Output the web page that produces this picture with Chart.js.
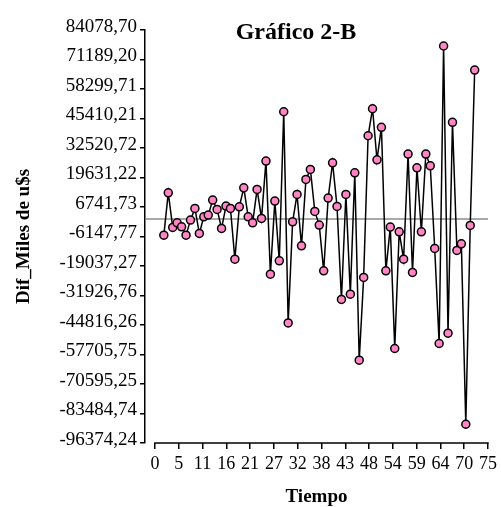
<!DOCTYPE html>
<html>
<head>
<meta charset="utf-8">
<script src="https://cdn.jsdelivr.net/npm/chart.js@4/dist/chart.umd.min.js"></script>
<style>
  html, body { margin: 0; padding: 0; background: #ffffff; }
  #wrap { width: 501px; height: 507px; }
</style>
</head>
<body>
<div id="wrap"><canvas id="c" width="501" height="507"></canvas></div>
<script>
// ---- data ----
const chartTitle = 'Gráfico 2-B';
const yTitle = 'Dif_Miles de u$s';
const xTitle = 'Tiempo';

const tiempo = [2, 3, 4, 5, 6, 7, 8, 9, 10, 11, 12, 13, 14, 15, 16, 17, 18, 19, 20, 21,
  22, 23, 24, 25, 26, 27, 28, 29, 30, 31, 32, 33, 34, 35, 36, 37, 38, 39, 40, 41,
  42, 43, 44, 45, 46, 47, 48, 49, 50, 51, 52, 53, 54, 55, 56, 57, 58, 59, 60, 61,
  62, 63, 64, 65, 66, 67, 68, 69, 70, 71, 72];

const difMiles = [-5547, 12946, -2181, -170, -1918, -5547, 1011, 6126, -4804, 2454,
  3197, 9755, 5689, -2618, 7132, 6126, -16040, 6826, 15132, 2454,
  -170, 14433, 1754, 26806, -22598, 9318, -16783, 48360, -43889, 268,
  12247, -10225, 18805, 23177, 4815, -1175, -21155, 10629, 26063, 7001,
  -33659, 12247, -31342, 21691, -60197, -24041, 37867, 49671, 27374, 41539,
  -21155, -2050, -55082, -4104, -16040, 29866, -21855, 23876, -4104, 29866,
  24751, -11362, -52896, 77084, -48393, 43725, -12236, -9351, -88178, -1306, 66591];

const referenceLevel = 1500; // horizontal gray reference line

const yTickValues = [84078.70, 71189.20, 58299.71, 45410.21, 32520.72, 19631.22, 6741.73,
  -6147.77, -19037.27, -31926.76, -44816.26, -57705.75, -70595.25, -83484.74, -96374.24];
const yTickLabels = ['84078,70', '71189,20', '58299,71', '45410,21', '32520,72', '19631,22', '6741,73',
  '-6147,77', '-19037,27', '-31926,76', '-44816,26', '-57705,75', '-70595,25', '-83484,74', '-96374,24'];

const xTickValues = [0, 5.357, 10.714, 16.071, 21.429, 26.786, 32.143, 37.5, 42.857,
  48.214, 53.571, 58.929, 64.286, 69.643, 75];
const xTickLabels = ['0', '5', '11', '16', '21', '27', '32', '38', '43', '48', '54', '59', '64', '70', '75'];

// ---- chart ----
Chart.defaults.font.family = "'Liberation Serif', 'Times New Roman', serif";
Chart.defaults.color = '#000000';

const points = tiempo.map((t, i) => ({ x: t, y: difMiles[i] }));

const extras = {
  id: 'extras',
  beforeDatasetsDraw(chart) {
    const { ctx, chartArea, scales } = chart;
    const y = scales.y.getPixelForValue(referenceLevel);
    ctx.save();
    ctx.strokeStyle = '#8c8c8c';
    ctx.lineWidth = 1.5;
    ctx.beginPath();
    ctx.moveTo(chartArea.left + 1, y);
    ctx.lineTo(chartArea.right, y);
    ctx.stroke();
    ctx.restore();
  },
  afterDraw(chart) {
    const { ctx, chartArea, scales } = chart;
    ctx.save();
    // x axis line from first to last tick
    ctx.strokeStyle = '#000000';
    ctx.lineWidth = 1.5;
    ctx.beginPath();
    ctx.moveTo(scales.x.getPixelForValue(xTickValues[0]) - 0.75, chartArea.bottom);
    ctx.lineTo(scales.x.getPixelForValue(xTickValues[xTickValues.length - 1]) + 0.75, chartArea.bottom);
    ctx.stroke();
    // title
    ctx.fillStyle = '#000000';
    ctx.font = "bold 24px 'Liberation Serif', 'Times New Roman', serif";
    ctx.textAlign = 'center';
    ctx.textBaseline = 'middle';
    ctx.fillText(chartTitle, 296, 33);
    ctx.restore();
  }
};

new Chart(document.getElementById('c'), {
  type: 'line',
  data: {
    datasets: [{
      data: points,
      borderColor: '#000000',
      borderWidth: 1.5,
      pointBackgroundColor: '#ff85c4',
      pointBorderColor: '#000000',
      pointBorderWidth: 1.5,
      pointRadius: 4,
      pointHoverRadius: 4,
      tension: 0,
      fill: false,
      clip: false
    }]
  },
  options: {
    responsive: false,
    devicePixelRatio: 1,
    animation: false,
    events: [],
    layout: { padding: { top: 30, right: 12, bottom: 0, left: 0 } },
    plugins: {
      legend: { display: false },
      tooltip: { enabled: false },
      title: { display: false }
    },
    scales: {
      x: {
        type: 'linear',
        min: -2.24,
        max: 75,
        afterBuildTicks(scale) { scale.ticks = xTickValues.map(v => ({ value: v })); },
        afterFit(scale) { scale.height = 64; },
        ticks: {
          autoSkip: false,
          maxRotation: 0,
          minRotation: 0,
          padding: 4,
          font: { size: 18 },
          color: '#000000',
          callback(value, index) { return xTickLabels[index]; }
        },
        grid: {
          drawOnChartArea: false,
          drawTicks: true,
          tickLength: 6,
          color: '#000000',
          lineWidth: 1.5
        },
        border: { display: false },
        title: {
          display: true,
          text: xTitle,
          font: { size: 19, weight: 'bold', lineHeight: 1 },
          padding: { top: 0, bottom: 0 },
          color: '#000000'
        }
      },
      y: {
        type: 'linear',
        min: yTickValues[yTickValues.length - 1],
        max: yTickValues[0],
        afterBuildTicks(scale) { scale.ticks = yTickValues.slice().reverse().map(v => ({ value: v })); },
        afterFit(scale) { scale.width = 145; },
        ticks: {
          autoSkip: false,
          padding: 3,
          labelOffset: -3,
          font: { size: 19 },
          color: '#000000',
          callback(value) {
            const i = yTickValues.findIndex(v => Math.abs(v - value) < 0.01);
            return i >= 0 ? yTickLabels[i] : '';
          }
        },
        grid: {
          drawOnChartArea: false,
          drawTicks: true,
          tickLength: 5,
          color: '#000000',
          lineWidth: 1.5
        },
        border: { display: true, color: '#000000', width: 1.5 },
        title: {
          display: true,
          text: yTitle,
          font: { size: 19, weight: 'bold', lineHeight: 1.2 },
          padding: { top: 13, bottom: 0 },
          color: '#000000'
        }
      }
    }
  },
  plugins: [extras]
});
</script>
</body>
</html>
